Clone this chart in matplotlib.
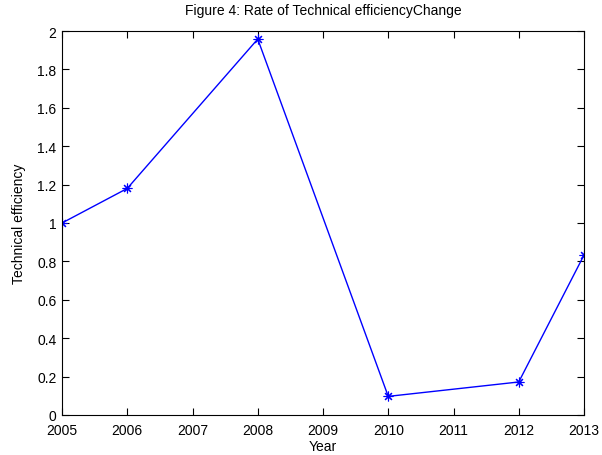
import matplotlib
matplotlib.use("Agg")
import matplotlib.pyplot as plt

years = [2005, 2006, 2008, 2010, 2012, 2013]
efficiency = [1.0, 1.18, 1.958, 0.097, 0.172, 0.833]
xticks = list(range(2005, 2014))
yticks = [0, 0.2, 0.4, 0.6, 0.8, 1, 1.2, 1.4, 1.6, 1.8, 2]

plt.rcParams['font.family'] = ['Liberation Sans', 'DejaVu Sans']
fig = plt.figure(figsize=(6.02, 4.56), dpi=100)
ax = fig.add_axes([62/602, 1-416/456, (584-62)/602, (416-32)/456])
ax.plot(years, efficiency, color='#0000ff', marker=(8, 2, 0), markersize=7, linewidth=1,
        markeredgewidth=0.8)
ax.set_xlim(2005, 2013)
ax.set_ylim(0, 2)
ax.set_xticks(xticks)
ax.set_xticklabels([str(x) for x in xticks])
ax.set_yticks(yticks)
ax.set_yticklabels(['0', '0.2', '0.4', '0.6', '0.8', '1', '1.2', '1.4', '1.6', '1.8', '2'])
ax.tick_params(direction='in', top=True, right=True, labelsize=10, length=5, width=0.8)
ax.tick_params(axis='x', pad=6)
ax.tick_params(axis='y', pad=4)
for s in ax.spines.values():
    s.set_linewidth(0.8)
ax.set_xlabel('Year', fontsize=10, labelpad=1)
ax.set_ylabel('Technical efficiency', fontsize=10, labelpad=8)
ax.set_title('Figure 4: Rate of Technical efficiencyChange', fontsize=10, pad=12)
fig.savefig('out.png', dpi=100)
